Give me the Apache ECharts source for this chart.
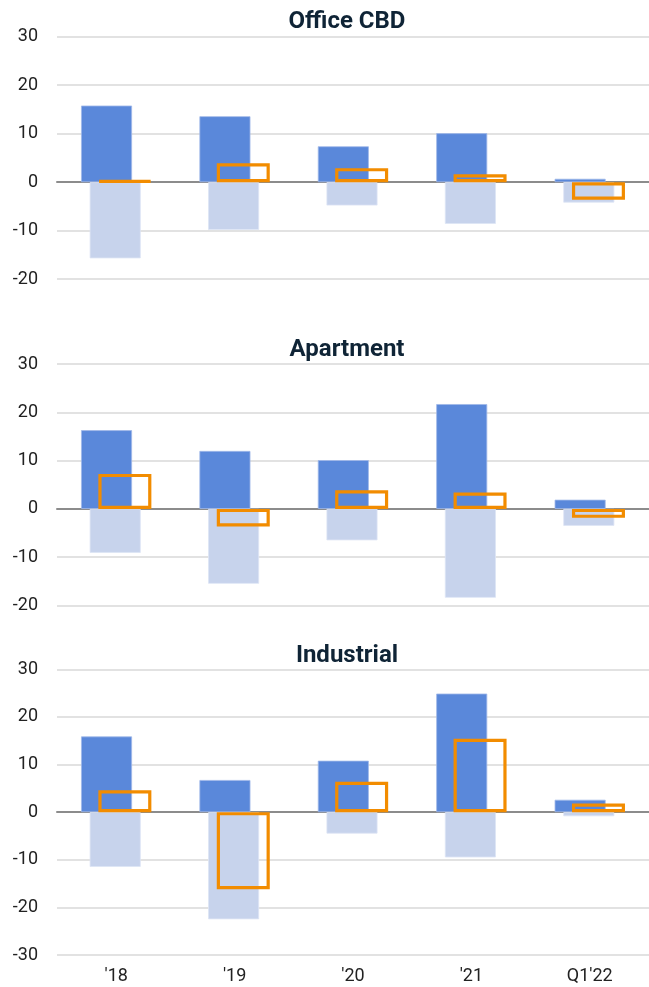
<!DOCTYPE html>
<html>
<head>
<meta charset="utf-8">
<script src="https://cdn.jsdelivr.net/npm/echarts@6/dist/echarts.min.js"></script>
<style>
  html, body { margin: 0; padding: 0; background: #fff; }
  #chart { width: 649px; height: 987px; }
</style>
</head>
<body>
<div id="chart"></div>
<script>
const categories = ["'18", "'19", "'20", "'21", "Q1'22"];
const panelTitles = ['Office CBD', 'Apartment', 'Industrial'];

// positive, negative and net values per panel
const officePos = [15.8, 13.6, 7.4, 10.1, 0.7];
const officeNeg = [-15.7, -9.85, -4.8, -8.6, -4.2];
const officeNet = [0.3, 3.9, 2.9, 1.65, -3.6];

const apartmentPos = [16.3, 12.0, 10.1, 21.7, 1.9];
const apartmentNeg = [-9.1, -15.5, -6.5, -18.4, -3.5];
const apartmentNet = [7.25, -3.65, 3.85, 3.4, -1.85];

const industrialPos = [15.9, 6.75, 10.8, 24.9, 2.6];
const industrialNeg = [-11.5, -22.5, -4.5, -9.5, -0.85];
const industrialNet = [4.6, -16.2, 6.4, 15.4, 1.8];

const yMin = [-20, -20, -30];
const yMax = [30, 30, 30];

const panels = [
  { pos: officePos, neg: officeNeg, net: officeNet },
  { pos: apartmentPos, neg: apartmentNeg, net: apartmentNet },
  { pos: industrialPos, neg: industrialNeg, net: industrialNet }
];

const gridTops = [36.7, 364, 669.3];
const gridHeights = [242.5, 241.5, 285.7];
const titleTops = [10, 338, 644];

const BLUE = '#5a88da';
const LIGHT = '#c7d3ec';
const ORANGE = '#f28c00';

const chart = echarts.init(document.getElementById('chart'));

const option = {
  backgroundColor: '#fff',
  animation: false,
  title: panelTitles.map((t, i) => ({
    text: t,
    left: 347,
    top: titleTops[i],
    textAlign: 'center',
    padding: 0,
    textStyle: {
      fontFamily: 'Roboto',
      fontWeight: 'bold',
      fontSize: 24,
      lineHeight: 24,
      color: '#0f2436'
    }
  })),
  grid: gridTops.map((top, i) => ({
    left: 57,
    right: -4,
    top: top,
    height: gridHeights[i]
  })),
  xAxis: panels.map((p, i) => ({
    type: 'category',
    gridIndex: i,
    data: categories,
    axisTick: { show: false },
    axisLine: { onZero: true, lineStyle: { color: '#8c8c8c', width: 2 } },
    axisLabel: {
      show: i === 2,
      color: '#222',
      fontFamily: 'Roboto',
      fontSize: 18,
      margin: 12
    }
  })),
  yAxis: panels.map((p, i) => ({
    type: 'value',
    gridIndex: i,
    min: yMin[i],
    max: yMax[i],
    interval: 10,
    axisLine: { show: false },
    axisTick: { show: false },
    splitLine: { lineStyle: { color: '#d9d9d9', width: 1.5 } },
    axisLabel: {
      color: '#222',
      fontFamily: 'Roboto',
      fontSize: 18,
      margin: 19
    }
  })),
  series: []
};

panels.forEach((p, i) => {
  option.series.push(
    {
      type: 'bar',
      xAxisIndex: i,
      yAxisIndex: i,
      data: p.pos,
      barWidth: 51,
      barGap: '-83%',
      itemStyle: { color: BLUE, borderColor: '#9fb8e8', borderWidth: 0.8 },
      z: 2
    },
    {
      type: 'bar',
      xAxisIndex: i,
      yAxisIndex: i,
      data: p.neg,
      barWidth: 51,
      barGap: '-83%',
      itemStyle: { color: LIGHT, borderColor: '#dde5f5', borderWidth: 0.8 },
      z: 2
    },
    {
      type: 'bar',
      xAxisIndex: i,
      yAxisIndex: i,
      data: p.net,
      barWidth: 53,
      barGap: '-83%',
      itemStyle: { color: 'rgba(0,0,0,0)', borderColor: ORANGE, borderWidth: 3.2 },
      z: 4
    }
  );
});

chart.setOption(option);
</script>
</body>
</html>
